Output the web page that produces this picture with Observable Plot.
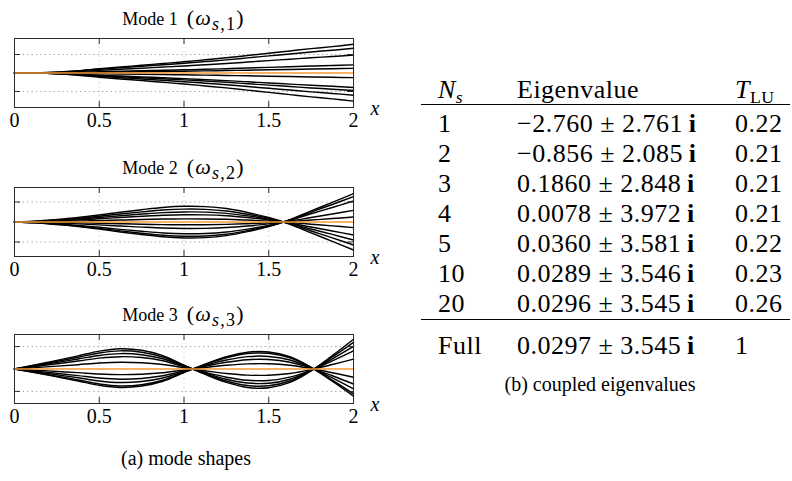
<!DOCTYPE html>
<html><head><meta charset="utf-8">
<script src="https://cdn.jsdelivr.net/npm/d3@7"></script>
<script src="https://cdn.jsdelivr.net/npm/@observablehq/plot@0.6"></script>
<style>
html,body{margin:0;padding:0;background:#fff;}
body{width:792px;height:481px;position:relative;overflow:hidden;color:#000;}
html body *, html body svg text, html body svg tspan {font-family:'Liberation Serif', serif !important;}
.abs{position:absolute;white-space:nowrap;}
.title{font-size:18px;line-height:1;transform:translate(-50%,-50%);}
.title .m{font-size:22px;letter-spacing:1.2px;}
.title .m sub{font-size:82%;}
.cap{font-size:20px;line-height:1;transform:translate(-50%,-50%);}
.cell{position:absolute;font-size:26px;line-height:1;transform:translateY(-50%);white-space:nowrap;letter-spacing:0.5px;}
.rule{position:absolute;height:0;border-top:1.2px solid #000;}
sub{font-size:68%;vertical-align:-0.3em;line-height:0;}
</style></head><body>
<script>
// ---- data ----
const xSamples = [0, 0.125, 0.25, 0.375, 0.5, 0.625, 0.75, 0.875, 1, 1.125, 1.25, 1.375, 1.5, 1.625, 1.75, 1.875, 2];
const mode1Shape = [0, 0.005, 0.03, 0.08, 0.15, 0.21, 0.27, 0.33, 0.39, 0.46, 0.53, 0.61, 0.69, 0.77, 0.85, 0.92, 1.0];
const mode2Shape = [0, -0.03, -0.09, -0.16, -0.25, -0.35, -0.44, -0.52, -0.56, -0.55, -0.48, -0.34, -0.16, 0.08, 0.39, 0.69, 1.0];
const mode3Shape = [0, 0.14, 0.29, 0.44, 0.6, 0.68, 0.63, 0.45, 0.13, -0.18, -0.45, -0.62, -0.63, -0.45, -0.06, 0.45, 1.0];
const mode1Amp = [1.55, 1.34, 0.97, 0.44, 0.25, 0, -0.25, -0.78, -0.95, -1.2, -1.52];
const mode2Amp = [1.42, 1.27, 1.05, 0.58, 0.25, 0, -0.28, -0.65, -0.9, -1.15, -1.4];
const mode3Amp = [1.33, 1.19, 1.01, 0.81, 0.44, 0, -0.37, -0.67, -0.89, -1.11, -1.21];
const xTicks = [0, 0.5, 1, 1.5, 2];
const yTicks = [-1, 1];
const modeNames = ["Mode 1", "Mode 2", "Mode 3"];
const modeIndex = ["1", "2", "3"];

const tableNs = ["1", "2", "3", "4", "5", "10", "20", "Full"];
const tableRe = ["\u22122.760", "\u22120.856", "0.1860", "0.0078", "0.0360", "0.0289", "0.0296", "0.0297"];
const tableIm = ["2.761", "2.085", "2.848", "3.972", "3.581", "3.546", "3.545", "3.545"];
const tableT = ["0.22", "0.21", "0.21", "0.21", "0.22", "0.23", "0.26", "1"];
const captionA = "(a) mode shapes";
const captionB = "(b) coupled eigenvalues";

// ---- layout ----
const ORANGE = "#f39a3a";
const FONT = "'Liberation Serif', serif";
const W = 400, ML = 14, MR = 47, MT = 8, FRAME_H = 69, MB = 31;
const panels = [
  {shape: mode1Shape, amp: mode1Amp, yMax: 1.865, top: 30},
  {shape: mode2Shape, amp: mode2Amp, yMax: 1.725, top: 179},
  {shape: mode3Shape, amp: mode3Amp, yMax: 1.54, top: 326}
];

function el(cls, x, y, html) {
  const d = document.createElement("div");
  d.className = cls;
  d.style.left = x + "px"; d.style.top = y + "px";
  d.style.fontFamily = FONT;
  d.innerHTML = html;
  document.body.appendChild(d);
  return d;
}

panels.forEach((p, idx) => {
  const rows = p.amp.flatMap((a, k) => xSamples.map((x, i) => ({k, x, y: a * p.shape[i], a})));
  const fw = W - ML - MR;
  const chart = Plot.plot({
    width: W, height: MT + FRAME_H + MB,
    marginTop: MT, marginBottom: MB, marginLeft: ML, marginRight: MR,
    x: {domain: [0, 2], ticks: xTicks, tickSize: 0, tickPadding: 5, tickFormat: d => String(d), label: null},
    y: {domain: [-p.yMax, p.yMax], axis: null},
    style: {fontFamily: FONT, fontSize: "20px", background: "transparent", color: "#000", overflow: "visible"},
    marks: [
      Plot.gridY(yTicks, {stroke: "#9a9a9a", strokeOpacity: 1, strokeDasharray: "1.2,3.2", strokeWidth: 1}),
      Plot.gridX([0.5, 1, 1.5], {stroke: "#c8c8c8", strokeOpacity: 1, strokeDasharray: "1.2,3.2", strokeWidth: 1}),
      Plot.line(rows.filter(d => d.a !== 0), {x: "x", y: "y", z: "k", stroke: "#000", strokeWidth: 1.45, curve: "catmull-rom"}),
      Plot.line(rows.filter(d => d.a === 0), {x: "x", y: "y", z: "k", stroke: ORANGE, strokeWidth: 1.7, curve: "catmull-rom"}),
      Plot.frame({stroke: "#2a2a2a", strokeWidth: 1}),
      Plot.tickX(xTicks.slice(1, -1), {x: d => d, insetTop: FRAME_H - 6, stroke: "#2a2a2a"}),
      Plot.tickX(xTicks.slice(1, -1), {x: d => d, insetBottom: FRAME_H - 6, stroke: "#2a2a2a"}),
      Plot.tickY(yTicks, {y: d => d, insetRight: fw - 6, stroke: "#2a2a2a"}),
      Plot.tickY(yTicks, {y: d => d, insetLeft: fw - 6, stroke: "#2a2a2a"}),
      Plot.text(["x"], {frameAnchor: "bottom-right", textAnchor: "start", lineAnchor: "middle", dx: 17, dy: 1, fontStyle: "italic", fontSize: 20})
    ]
  });
  chart.querySelectorAll("text").forEach(t => { t.style.fontFamily = FONT; });
  const div = el("abs", 0, p.top, "");
  div.appendChild(chart);

  el("abs title", (ML + W - MR) / 2, p.top + MT - 20,
    `${modeNames[idx]}&nbsp;&nbsp;<span class="m">(<i>\u03c9</i><sub><i>s</i>,${modeIndex[idx]}</sub>)</span>`);
});

el("abs cap", 186, 458, captionA);

// ---- table ----
const colX = [438, 517, 735];
const ruleX0 = 421, ruleX1 = 790;
const headerY = 90, rule1Y = 104, rule2Y = 319, fullY = 346;
const rowY = d3.scaleLinear().domain([0, 6]).range([124, 304]);
function rule(y) {
  const d = el("rule", ruleX0, y, "");
  d.style.width = (ruleX1 - ruleX0) + "px";
}
el("cell", colX[0], headerY, "<i>N</i><sub><i>s</i></sub>");
el("cell", colX[1], headerY, "Eigenvalue");
el("cell", colX[2], headerY, "<i>T</i><sub>LU</sub>");
rule(rule1Y);
tableNs.forEach((n, i) => {
  const y = i < tableNs.length - 1 ? rowY(i) : fullY;
  el("cell", colX[0], y, n);
  el("cell", colX[1], y, `${tableRe[i]} \u00b1 ${tableIm[i]}\u2009<b>i</b>`);
  el("cell", colX[2], y, tableT[i]);
});
rule(rule2Y);
el("abs cap", 600, 384, captionB);
</script></body></html>
